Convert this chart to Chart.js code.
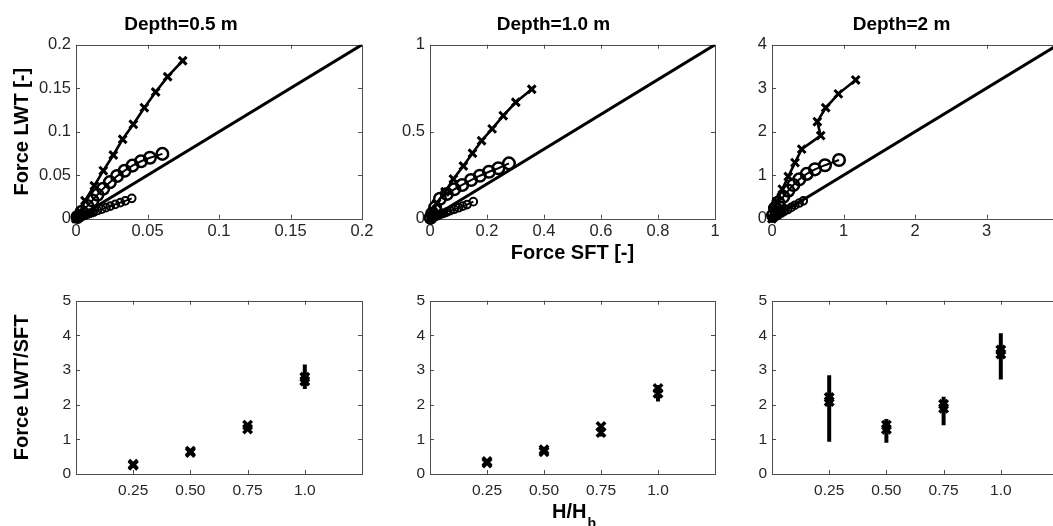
<!DOCTYPE html>
<html><head><meta charset="utf-8">
<script src="https://cdn.jsdelivr.net/npm/chart.js@4.4.1/dist/chart.umd.min.js"></script>
<style>
html,body{margin:0;padding:0;background:#fff;overflow:hidden;width:1053px;height:526px;position:relative;}
.pane{position:absolute;}
</style></head><body>
<div class="pane" style="left:0;top:0;width:392px;height:275px"><canvas id="t1"></canvas></div>
<div class="pane" style="left:392px;top:0;width:353px;height:275px"><canvas id="t2"></canvas></div>
<div class="pane" style="left:745px;top:0;width:330px;height:275px"><canvas id="t3"></canvas></div>
<div class="pane" style="left:0;top:262px;width:392px;height:264px"><canvas id="b1"></canvas></div>
<div class="pane" style="left:392px;top:262px;width:353px;height:264px"><canvas id="b2"></canvas></div>
<div class="pane" style="left:745px;top:262px;width:330px;height:264px"><canvas id="b3"></canvas></div>
<script>
// ---------------- data ----------------
const depthTitles = ['Depth=0.5 m', 'Depth=1.0 m', 'Depth=2 m'];
const axisMaxTop = [0.2, 1, 4];

const p05TicksY = [0, 0.05, 0.1, 0.15, 0.2];
const p05TicksX = [0, 0.05, 0.1, 0.15, 0.2];
const p10TicksY = [0, 0.5, 1];
const p10TicksX = [0, 0.2, 0.4, 0.6, 0.8, 1];
const p20TicksY = [0, 1, 2, 3, 4];
const p20TicksX = [0, 1, 2, 3];

const p05CrossX = [0, 0.001, 0.003, 0.0063, 0.0128, 0.0191, 0.0261, 0.0326, 0.0401, 0.0478, 0.0557, 0.0641, 0.0746];
const p05CrossY = [0, 0.002, 0.008, 0.0207, 0.0379, 0.0552, 0.0732, 0.0913, 0.1085, 0.1276, 0.1456, 0.1632, 0.1816];
const p05CircX = [0.001, 0.004, 0.008, 0.0115, 0.015, 0.019, 0.0237, 0.0287, 0.034, 0.0395, 0.0455, 0.0517, 0.0604];
const p05CircY = [0.002, 0.008, 0.0145, 0.021, 0.0275, 0.0345, 0.042, 0.049, 0.0552, 0.061, 0.066, 0.07, 0.0745];
const p05SmallX = [0.001, 0.003, 0.006, 0.009, 0.012, 0.015, 0.018, 0.021, 0.024, 0.0275, 0.031, 0.0345, 0.039];
const p05SmallY = [0.001, 0.002, 0.004, 0.006, 0.0077, 0.0094, 0.011, 0.0127, 0.0145, 0.0165, 0.0185, 0.0205, 0.0234];
const p05LowX = [0, 0.0015, 0.003, 0.0045, 0.006, 0.0075, 0.009, 0.0105, 0.012];
const p05LowY = [0, 0.001, 0.002, 0.003, 0.004, 0.005, 0.0058, 0.0066, 0.0075];

const p10CrossX = [0, 0.003, 0.010, 0.023, 0.053, 0.082, 0.117, 0.149, 0.181, 0.218, 0.257, 0.301, 0.357];
const p10CrossY = [0, 0.01, 0.04, 0.088, 0.155, 0.228, 0.303, 0.376, 0.448, 0.516, 0.592, 0.669, 0.744];
const p10CircX = [0.002, 0.008, 0.018, 0.035, 0.059, 0.085, 0.113, 0.144, 0.175, 0.207, 0.240, 0.277];
const p10CircY = [0.005, 0.03, 0.065, 0.115, 0.142, 0.169, 0.194, 0.222, 0.247, 0.270, 0.290, 0.318];
const p10SmallX = [0.004, 0.012, 0.022, 0.034, 0.046, 0.058, 0.071, 0.085, 0.1, 0.115, 0.13, 0.152];
const p10SmallY = [0.003, 0.009, 0.016, 0.024, 0.031, 0.038, 0.046, 0.054, 0.063, 0.072, 0.081, 0.098];
const p10LowX = [0, 0.006, 0.012, 0.018, 0.024, 0.03, 0.037, 0.044, 0.05];
const p10LowY = [0, 0.004, 0.009, 0.013, 0.018, 0.022, 0.027, 0.031, 0.035];

const p20CrossX = [0, 0.028, 0.065, 0.144, 0.228, 0.322, 0.415, 0.681, 0.634, 0.751, 0.928, 1.170];
const p20CrossY = [0, 0.20, 0.39, 0.68, 0.97, 1.29, 1.60, 1.91, 2.23, 2.55, 2.87, 3.19];
const p20CircX = [0.015, 0.042, 0.088, 0.158, 0.228, 0.298, 0.382, 0.485, 0.601, 0.741, 0.937];
const p20CircY = [0.08, 0.24, 0.37, 0.505, 0.645, 0.775, 0.905, 1.03, 1.135, 1.23, 1.35];
const p20SmallX = [0.01, 0.03, 0.06, 0.09, 0.13, 0.17, 0.22, 0.27, 0.32, 0.38, 0.438];
const p20SmallY = [0.01, 0.03, 0.06, 0.09, 0.13, 0.17, 0.21, 0.26, 0.31, 0.36, 0.41];
const p20LowX = [0, 0.02, 0.04, 0.06, 0.08, 0.1, 0.12, 0.15];
const p20LowY = [0, 0.03, 0.06, 0.1, 0.13, 0.17, 0.2, 0.25];

const hRatio = [0.25, 0.5, 0.75, 1.0];
const hRatioLabels = ['0.25', '0.50', '0.75', '1.0'];
const ratioTicksY = [0, 1, 2, 3, 4, 5];

const b05Hi = [0.28, 0.66, 1.41, 2.79];
const b05Lo = [0.25, 0.62, 1.30, 2.68];
const b05ErrLo = [0.22, 0.58, 1.26, 2.45];
const b05ErrHi = [0.31, 0.70, 1.45, 3.16];

const b10Hi = [0.36, 0.70, 1.37, 2.47];
const b10Lo = [0.32, 0.64, 1.20, 2.33];
const b10ErrLo = [0.29, 0.61, 1.08, 2.09];
const b10ErrHi = [0.39, 0.74, 1.44, 2.57];

const b20Hi = [2.21, 1.41, 2.01, 3.58];
const b20Lo = [2.09, 1.29, 1.90, 3.46];
const b20ErrLo = [0.93, 0.90, 1.41, 2.73];
const b20ErrHi = [2.85, 1.59, 2.23, 4.06];

// ---------------- helpers ----------------
const FONT = "'Liberation Sans', Arial, Helvetica, sans-serif";
Chart.defaults.font.family = FONT;
Chart.defaults.color = '#262626';

function xy(xs, ys) { return xs.map((x, i) => ({x: x, y: ys[i]})); }

const boxTicks = {
  id: 'boxTicks',
  beforeDatasetsDraw(chart) {
    const {ctx, chartArea: a} = chart;
    const sx = chart.scales.x, sy = chart.scales.y;
    ctx.save();
    ctx.strokeStyle = '#4d4d4d';
    ctx.lineWidth = 1;
    ctx.strokeRect(Math.round(a.left) + 0.5, Math.round(a.top) + 0.5,
                   Math.round(a.right - a.left), Math.round(a.bottom - a.top));
    ctx.beginPath();
    const L = 4;
    sx.ticks.forEach(t => {
      const p = Math.round(sx.getPixelForValue(t.value)) + 0.5;
      ctx.moveTo(p, a.bottom); ctx.lineTo(p, a.bottom - L);
      ctx.moveTo(p, a.top); ctx.lineTo(p, a.top + L);
    });
    sy.ticks.forEach(t => {
      const p = Math.round(sy.getPixelForValue(t.value)) + 0.5;
      ctx.moveTo(a.left, p); ctx.lineTo(a.left + L, p);
      ctx.moveTo(a.right, p); ctx.lineTo(a.right - L, p);
    });
    ctx.stroke();
    ctx.restore();
  }
};

const hhbLabel = {
  id: 'hhbLabel',
  afterDraw(chart) {
    const {ctx, chartArea: a} = chart;
    ctx.save();
    ctx.fillStyle = '#000';
    ctx.textBaseline = 'alphabetic';
    ctx.textAlign = 'left';
    ctx.font = 'bold 20px ' + FONT;
    const main = 'H/H';
    const w1 = ctx.measureText(main).width;
    ctx.font = 'bold 14px ' + FONT;
    const w2 = ctx.measureText('b').width;
    const cx = (a.left + a.right) / 2 + 1;
    const x0 = cx - (w1 + w2) / 2;
    ctx.font = 'bold 20px ' + FONT;
    ctx.fillText(main, x0, 255.5);
    ctx.font = 'bold 14px ' + FONT;
    ctx.fillText('b', x0 + w1 + 1, 265.5);
    ctx.restore();
  }
};

function scale(min, max, ticks, labels, size, pad, fixed, isX, title) {
  const s = {
    type: 'linear', min: min, max: max,
    afterBuildTicks: (sc) => { sc.ticks = ticks.map(v => ({value: v})); },
    ticks: {
      callback: (v, i) => labels[i],
      font: {size: size}, padding: pad, maxRotation: 0, autoSkip: false, color: '#262626'
    },
    grid: {display: false, drawTicks: false},
    border: {display: false},
    afterFit: (sc) => { if (isX) sc.height = fixed; else sc.width = fixed; }
  };
  if (title) s.title = title;
  return s;
}

function topChart(id, col) {
  const cfg = [
    {tx: p05TicksX, ty: p05TicksY, wy: 76, r: 30,
     cross: [p05CrossX, p05CrossY], circ: [p05CircX, p05CircY], small: [p05SmallX, p05SmallY], low: [p05LowX, p05LowY]},
    {tx: p10TicksX, ty: p10TicksY, wy: 38, r: 30,
     cross: [p10CrossX, p10CrossY], circ: [p10CircX, p10CircY], small: [p10SmallX, p10SmallY], low: [p10LowX, p10LowY]},
    {tx: p20TicksX, ty: p20TicksY, wy: 27, r: 17,
     cross: [p20CrossX, p20CrossY], circ: [p20CircX, p20CircY], small: [p20SmallX, p20SmallY], low: [p20LowX, p20LowY]}
  ][col];
  const m = axisMaxTop[col];
  const fmt = v => String(v);
  const yTitle = col === 0 ? {display: true, text: 'Force LWT [-]', color: '#000',
      font: {size: 20, weight: 'bold'}, padding: {top: 10, bottom: 0}} : null;
  const xTitle = col === 1 ? {display: true, text: 'Force SFT [-]', color: '#000',
      font: {size: 20, weight: 'bold'}, padding: {top: 0, bottom: 10}} : null;
  new Chart(document.getElementById(id), {
    type: 'scatter',
    data: {
      datasets: [
        {data: [{x: 0, y: 0}, {x: m, y: m}], showLine: true, borderColor: '#000', borderWidth: 3,
         pointRadius: 0, clip: 0},
        {data: xy(cfg.small[0], cfg.small[1]), showLine: true, borderColor: '#000', borderWidth: 1.8,
         pointStyle: 'circle', pointRadius: 3.8, pointBorderWidth: 2, pointBorderColor: '#000',
         pointBackgroundColor: 'rgba(0,0,0,0)', clip: 8},
        {data: xy(cfg.low[0], cfg.low[1]), showLine: true, borderColor: '#000', borderWidth: 2.5,
         pointStyle: 'crossRot', pointRadius: 5, pointBorderWidth: 3, pointBorderColor: '#000', clip: 8},
        {data: xy(cfg.circ[0], cfg.circ[1]), showLine: true, borderColor: '#000', borderWidth: 2,
         pointStyle: 'circle', pointRadius: 5.8, pointBorderWidth: 2.5, pointBorderColor: '#000',
         pointBackgroundColor: 'rgba(0,0,0,0)', clip: 8},
        {data: xy(cfg.cross[0], cfg.cross[1]), showLine: true, borderColor: '#000', borderWidth: 2.6,
         pointStyle: 'crossRot', pointRadius: 5.5, pointBorderWidth: 3, pointBorderColor: '#000', clip: 8}
      ]
    },
    options: {
      responsive: true, maintainAspectRatio: false, animation: false,
      layout: {padding: {top: 0, left: 0, right: cfg.r, bottom: 0}},
      plugins: {
        legend: {display: false}, tooltip: {enabled: false},
        title: {display: true, text: depthTitles[col], color: '#000',
                font: {size: 19, weight: 'bold'}, padding: {top: 13.1, bottom: 8.8}}
      },
      scales: {
        x: scale(0, m, cfg.tx, cfg.tx.map(fmt), 16.5, 3, 56.3, true, xTitle),
        y: scale(0, m, cfg.ty, cfg.ty.map(fmt), 16.5, 5, cfg.wy, false, yTitle)
      }
    },
    plugins: [boxTicks]
  });
}

function bottomChart(id, col) {
  const cfg = [
    {hi: b05Hi, lo: b05Lo, el: b05ErrLo, eh: b05ErrHi, wy: 76, r: 30},
    {hi: b10Hi, lo: b10Lo, el: b10ErrLo, eh: b10ErrHi, wy: 38, r: 30},
    {hi: b20Hi, lo: b20Lo, el: b20ErrLo, eh: b20ErrHi, wy: 27, r: 17}
  ][col];
  const err = [];
  hRatio.forEach((h, i) => {
    err.push({x: h, y: cfg.el[i]}, {x: h, y: cfg.eh[i]}, {x: h, y: null});
  });
  const yTitle = col === 0 ? {display: true, text: 'Force LWT/SFT', color: '#000',
      font: {size: 20, weight: 'bold'}, padding: {top: 10, bottom: 0}} : null;
  new Chart(document.getElementById(id), {
    type: 'scatter',
    data: {
      datasets: [
        {data: err, showLine: true, spanGaps: false, borderColor: '#000', borderWidth: 4,
         borderCapStyle: 'butt', pointRadius: 0},
        {data: xy(hRatio, cfg.hi), pointStyle: 'crossRot', pointRadius: 6, pointBorderWidth: 3.5,
         pointBorderColor: '#000', pointBackgroundColor: '#000'},
        {data: xy(hRatio, cfg.lo), pointStyle: 'crossRot', pointRadius: 6, pointBorderWidth: 3.5,
         pointBorderColor: '#000', pointBackgroundColor: '#000'}
      ]
    },
    options: {
      responsive: true, maintainAspectRatio: false, animation: false,
      layout: {padding: {top: 38.7, left: 0, right: cfg.r, bottom: 0}},
      plugins: {legend: {display: false}, tooltip: {enabled: false}},
      scales: {
        x: scale(0, 1.25, hRatio, hRatioLabels, 15.5, 7, 52, true, null),
        y: scale(0, 5, ratioTicksY, ratioTicksY.map(String), 15.5, 5, cfg.wy, false, yTitle)
      }
    },
    plugins: col === 1 ? [boxTicks, hhbLabel] : [boxTicks]
  });
}

topChart('t1', 0); topChart('t2', 1); topChart('t3', 2);
bottomChart('b1', 0); bottomChart('b2', 1); bottomChart('b3', 2);
</script>
</body></html>
